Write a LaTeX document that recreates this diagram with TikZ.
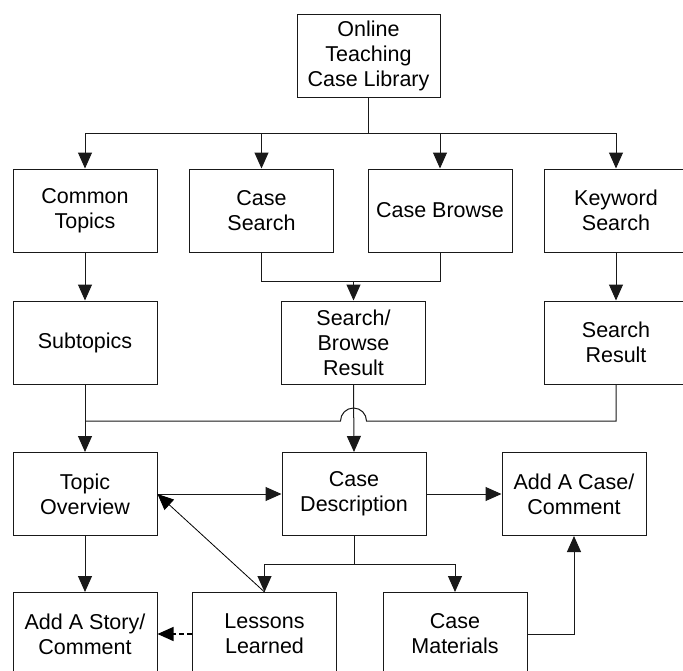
\documentclass[tikz,border=0pt]{standalone}
\usepackage{fontspec}
\setmainfont{Liberation Sans}
\usetikzlibrary{arrows.meta}
\begin{document}
\begin{tikzpicture}[x=1pt,y=-1pt,
  box/.style={draw=black!90,line width=1pt,rectangle,minimum width=144pt,minimum height=83pt,
    inner sep=0pt,align=center,font=\fontsize{21.5}{25}\selectfont},
  link/.style={draw=black!90,line width=1pt},
  tip/.style={-{Triangle[width=14pt,length=16pt]}},
  arr/.style={link,tip},
  dasharr/.style={draw=black,line width=1.3pt,dash pattern=on 5pt off 3pt,tip},
  thinarr/.style={draw=black,line width=0.8pt,tip}]
\useasboundingbox (0,0) rectangle (683,670);

% nodes
\node[box,minimum width=143pt] (lib) at (368.5,55.5) {Online\\Teaching\\Case Library};
\node[box] (common)  at (85,210.5)    {Common\\Topics};
\node[box] (csearch) at (261.5,210.5) {Case\\Search};
\node[box] (cbrowse) at (440,210.5)   {Case Browse};
\node[box] (keyword) at (616,210.5)   {Keyword\\Search};
\node[box] (subtop)  at (85,342.5)    {Subtopics};
\node[box] (sbres)   at (353.5,342.5) {Search/\\Browse\\Result};
\node[box] (sres)    at (616,342.5)   {Search\\Result};
\node[box] (topic)   at (85,494)      {Topic\\Overview};
\node[box] (cdesc)   at (354,494)     {Case\\Description};
\node[box] (addcase) at (574,494)     {Add A Case/\\Comment};
\node[box] (addstory) at (85,634)     {Add A Story/\\Comment};
\node[box] (lessons) at (264.5,634)   {Lessons\\Learned};
\node[box] (mater)   at (455,634)     {Case\\Materials};

% branch points
\coordinate (topbus) at (368.5,133);
\coordinate (sbbus) at (353.5,281);
\coordinate (hopR) at (366.5,421);
\coordinate (joinL) at (85,421);
\coordinate (descbus) at (354,564);

% library to first row
\draw[link] (lib.south) -- (topbus);
\draw[link] (common.north |- topbus) -- (keyword.north |- topbus);
\draw[arr] (common.north |- topbus) -- (common.north);
\draw[arr] (csearch.north |- topbus) -- (csearch.north);
\draw[arr] (cbrowse.north |- topbus) -- (cbrowse.north);
\draw[arr] (keyword.north |- topbus) -- (keyword.north);

% first row to second row
\draw[arr] (common.south) -- (subtop.north);
\draw[link] (csearch.south) -- (csearch.south |- sbbus) -- (cbrowse.south |- sbbus) -- (cbrowse.south);
\draw[arr] (sbbus) -- (sbres.north);
\draw[arr] (keyword.south) -- (sres.north);

% second row to third row
\draw[arr] (subtop.south) -- (topic.north);
\draw[arr] (sbres.south) -- (cdesc.north);
\draw[link] (sres.south) -- (sres.south |- hopR) -- (hopR)
  arc[start angle=0,end angle=180,radius=13pt] -- (joinL);

% third row
\draw[arr] (topic.east) -- (cdesc.west);
\draw[arr] (cdesc.east) -- (addcase.west);
\draw[arr] (topic.south) -- (addstory.north);
\draw[link] (cdesc.south) -- (descbus);
\draw[arr] (lessons.north |- descbus) -- (mater.north |- descbus) -- (mater.north);
\draw[arr] (descbus) -- (lessons.north |- descbus) -- (lessons.north);
\draw[thinarr] (lessons.north) -- (topic.east);
\draw[dasharr] (lessons.west) -- (addstory.east);
\draw[arr] (mater.east) -- (addcase.south |- mater.east) -- (addcase.south);
\end{tikzpicture}
\end{document}
